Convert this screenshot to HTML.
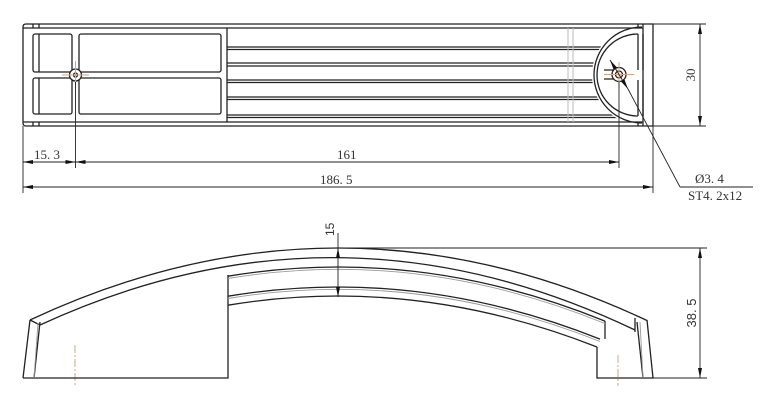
<!DOCTYPE html>
<html><head><meta charset="utf-8"><style>
html,body{margin:0;padding:0;background:#fff;}
svg{display:block;}
text{font-family:"Liberation Serif",serif;fill:#333;}
</style></head><body>
<svg width="763" height="400" viewBox="0 0 763 400" xmlns="http://www.w3.org/2000/svg">
<defs>
<marker id="ar" viewBox="0 0 10 4" refX="10" refY="2" markerWidth="10" markerHeight="4" markerUnits="userSpaceOnUse" orient="auto-start-reverse"><path d="M0,0 L10,2 L0,4z" fill="#111"/></marker>
<clipPath id="rib"><path d="M227,20 H642 V25 A50,50 0 0 0 642,125 V130 H227z"/></clipPath>
</defs>
<g fill="none" stroke="#222" stroke-width="1.3">
<!-- top view outline -->
<path d="M26,24 H653 V126 H26 Q23,126 23,123 V27 Q23,24 26,24z"/>
<line x1="23" y1="28" x2="643" y2="28"/>
<line x1="23" y1="122" x2="643" y2="122"/>
<line x1="33" y1="24" x2="33" y2="28"/><line x1="39" y1="24" x2="39" y2="28"/>
<line x1="33" y1="122" x2="33" y2="126"/><line x1="39" y1="122" x2="39" y2="126"/>
<line x1="638" y1="24" x2="638" y2="28"/><line x1="643" y1="24" x2="643" y2="126"/>
<line x1="638" y1="122" x2="638" y2="126"/>
<line x1="227" y1="28" x2="227" y2="122"/>
<rect x="33" y="34" width="39" height="38" rx="2"/>
<line x1="39" y1="34" x2="39" y2="72"/>
<rect x="33" y="78" width="39" height="36" rx="2"/>
<line x1="39" y1="78" x2="39" y2="114"/>
<rect x="79" y="34" width="142" height="38" rx="2"/>
<rect x="79" y="78" width="142" height="36" rx="2"/>
<circle cx="75.5" cy="75" r="6" fill="#fff"/>
<circle cx="75.5" cy="75" r="2"/>
<!-- ribs -->
<g clip-path="url(#rib)">
<line x1="227" y1="47" x2="645" y2="47"/><line x1="227" y1="49.5" x2="645" y2="49.5"/>
<line x1="227" y1="63" x2="645" y2="63"/><line x1="227" y1="66" x2="645" y2="66"/>
<line x1="227" y1="80" x2="645" y2="80"/><line x1="227" y1="82.5" x2="645" y2="82.5"/>
<line x1="227" y1="97" x2="645" y2="97"/><line x1="227" y1="99.5" x2="645" y2="99.5"/>
<line x1="227" y1="115" x2="645" y2="115"/><line x1="227" y1="117.5" x2="645" y2="117.5"/>
</g>
<!-- right end -->
<path d="M642,27 A48,48 0 0 0 642,123"/>
<path d="M638,34 A41,41 0 0 0 638,116"/>
<path d="M638,34 V70 M643,34 V70 M638,80 V116 M643,80 V116"/>
<path d="M604,70 H614 M604,79 H614"/>
<circle cx="619" cy="74.5" r="7" fill="#fff"/>
<circle cx="619" cy="74.5" r="3.5"/>
</g>
<g stroke="#bbb" stroke-width="1">
<line x1="568" y1="28" x2="568" y2="122"/><line x1="573" y1="28" x2="573" y2="122"/>
</g>
<g stroke="#d4a57c" stroke-width="1">
<line x1="62" y1="75" x2="89" y2="75"/><line x1="75.5" y1="61" x2="75.5" y2="89"/>
<line x1="604" y1="74.5" x2="634" y2="74.5"/><line x1="619" y1="62" x2="619" y2="88"/>
<line x1="75" y1="345" x2="75" y2="386" stroke-dasharray="8,2,2,2"/>
<line x1="618" y1="355" x2="618" y2="386" stroke-dasharray="8,2,2,2"/>
</g>
<!-- dimensions top -->
<g stroke="#222" stroke-width="0.9" fill="none">
<line x1="23" y1="126" x2="23" y2="193"/>
<line x1="75.5" y1="82" x2="75.5" y2="168"/>
<line x1="619" y1="82" x2="619" y2="168"/>
<line x1="653" y1="126" x2="653" y2="193"/>
<line x1="23" y1="162" x2="75.5" y2="162" marker-start="url(#ar)" marker-end="url(#ar)"/>
<line x1="75.5" y1="162" x2="619" y2="162" marker-start="url(#ar)" marker-end="url(#ar)"/>
<line x1="23" y1="187" x2="653" y2="187" marker-start="url(#ar)" marker-end="url(#ar)"/>
<line x1="653" y1="24" x2="706" y2="24"/><line x1="653" y1="126" x2="706" y2="126"/>
<line x1="700" y1="24" x2="700" y2="126" marker-start="url(#ar)" marker-end="url(#ar)"/>
<line x1="610" y1="60" x2="628" y2="89" marker-start="url(#ar)" marker-end="url(#ar)"/>
<line x1="628" y1="89" x2="680" y2="187"/>
<line x1="680" y1="187" x2="753" y2="187"/>
</g>
<text x="34" y="159" font-size="13">15. 3</text>
<text x="337" y="159" font-size="13">161</text>
<text x="320" y="184" font-size="13">186. 5</text>
<text x="695" y="183" font-size="13">Ø3. 4</text>
<text x="688" y="200" font-size="13">ST4. 2x12</text>
<text transform="translate(695,75) rotate(-90)" font-size="13" text-anchor="middle">30</text>
<!-- bottom view -->
<g fill="none" stroke="#222" stroke-width="1.3">
<path d="M23,378 H228 V275"/>
<path d="M597,347 V378 H653 L647,320"/>
<path d="M23,378 L30,320"/>
<path d="M34,378 L40,322"/>
<path d="M643,378 L637,322"/>
<path d="M30,320 Q338.5,175.8 647,320.5"/>
<path d="M40,325 Q337.5,187.8 635,330"/>
<path d="M30,320 L40,325 M635,318 V332"/>
<path d="M228,276.2 Q416.5,244.7 605,321.1"/>
<path d="M228,296.2 Q414,265.1 600,339.1"/>
<path d="M228,305.2 Q412.5,274.4 597,347"/>
<path d="M605,321 V339"/>
</g>
<g fill="none" stroke="#999" stroke-width="0.9">
<path d="M228,278.5 Q416.5,247 605,323.5"/>
<path d="M228,298.5 Q414,267.5 600,341.5"/>
<path d="M34,378 L38,323"/>
<path d="M643,378 L640,322"/>
</g>
<g stroke="#222" stroke-width="0.9" fill="none">
<line x1="340" y1="248" x2="707" y2="248"/>
<line x1="653" y1="378" x2="707" y2="378"/>
<line x1="700" y1="248" x2="700" y2="378" marker-start="url(#ar)" marker-end="url(#ar)"/>
<line x1="338" y1="233" x2="338" y2="297"/>
<line x1="338" y1="248" x2="338" y2="256" marker-start="url(#ar)"/>
<line x1="338" y1="289" x2="338" y2="297" marker-end="url(#ar)"/>
</g>
<text transform="translate(334,236) rotate(-90)" font-size="12" style="font-family:'Liberation Sans',sans-serif">15</text>
<text transform="translate(696,313) rotate(-90)" font-size="13" text-anchor="middle" style="font-family:'Liberation Sans',sans-serif">38. 5</text>
</svg>
</body></html>
